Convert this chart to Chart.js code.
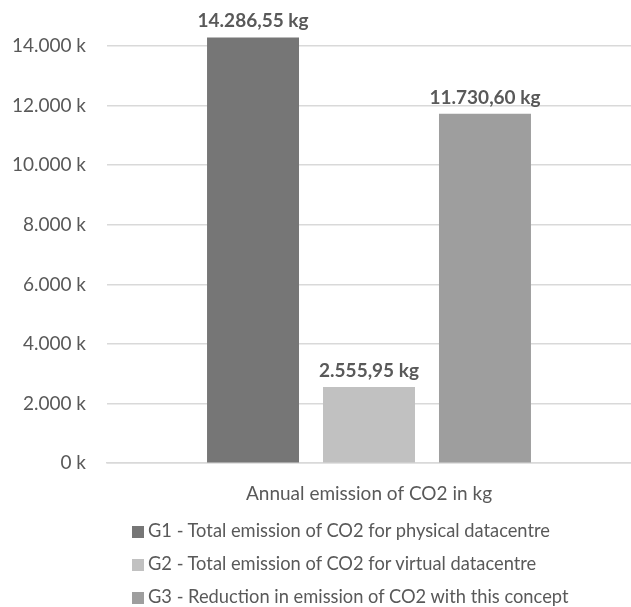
<!DOCTYPE html>
<html>
<head>
<meta charset="utf-8">
<script src="https://cdn.jsdelivr.net/npm/chart.js@4"></script>
<style>
  html, body { margin: 0; padding: 0; background: #fff; }
  #wrap { position: relative; width: 631px; height: 607px; }
  #legend { position: absolute; left: 132px; top: 514px; font-family: Lato, sans-serif; font-size: 18.3px; color: #595959; }
  #legend div { height: 33px; line-height: 33px; white-space: nowrap; }
  #legend span.box { display: inline-block; width: 12px; height: 12px; margin-right: 4px; vertical-align: -1px; }
</style>
</head>
<body>
<div id="wrap">
  <canvas id="chart" width="631" height="607"></canvas>
  <div id="legend"></div>
</div>
<script>
const categories = ["Annual emission of CO2 in kg"];
const seriesNames = [
  "G1 - Total emission of CO2 for physical datacentre",
  "G2 - Total emission of CO2 for virtual datacentre",
  "G3 - Reduction in emission of CO2 with this concept"
];
const seriesValues = [[14286.55], [2555.95], [11730.60]];
const seriesColors = ["#767676", "#c1c1c1", "#9e9e9e"];
const yTicks = [0, 2000, 4000, 6000, 8000, 10000, 12000, 14000];

const textColor = "#595959";
const fontFamily = "Lato, sans-serif";

function groupDots(n, decimals) {
  const parts = n.toFixed(decimals).split(".");
  const intPart = parts[0].replace(/\B(?=(\d{3})+(?!\d))/g, ".");
  return parts.length > 1 ? intPart + "," + parts[1] : intPart;
}

// draws the value above each bar
const barLabels = {
  id: "barLabels",
  afterDatasetsDraw(chart) {
    const ctx = chart.ctx;
    ctx.save();
    ctx.font = "bold 19px " + fontFamily;
    ctx.fillStyle = textColor;
    ctx.textAlign = "center";
    ctx.textBaseline = "alphabetic";
    chart.data.datasets.forEach((ds, i) => {
      chart.getDatasetMeta(i).data.forEach((bar, j) => {
        ctx.fillText(groupDots(ds.data[j], 2) + " kg", bar.x, bar.y - 10);
      });
    });
    ctx.restore();
  }
};

const ctx = document.getElementById("chart").getContext("2d");
const chart = new Chart(ctx, {
  type: "bar",
  data: {
    labels: categories,
    datasets: seriesNames.map((name, i) => ({
      label: name,
      data: seriesValues[i],
      backgroundColor: seriesColors[i],
      borderWidth: 0,
      clip: false,
      categoryPercentage: 0.664,
      barPercentage: 0.793
    }))
  },
  options: {
    responsive: false,
    animation: false,
    layout: { padding: { top: 46, right: 0, bottom: 91, left: 0 } },
    plugins: {
      legend: { display: false },
      tooltip: { enabled: false }
    },
    scales: {
      x: {
        grid: { display: false },
        border: { display: true, color: "#d9d9d9", width: 1.5 },
        ticks: { color: textColor, font: { family: fontFamily, size: 19 }, padding: 11 }
      },
      y: {
        min: 0,
        max: 14000,
        afterFit(scale) { scale.width = 107; },
        afterBuildTicks(scale) { scale.ticks = yTicks.map(v => ({ value: v })); },
        grid: { color: "#d9d9d9", lineWidth: 1.5, drawTicks: false },
        border: { display: false },
        ticks: {
          color: textColor,
          font: { family: fontFamily, size: 19 },
          padding: 21,
          callback: v => groupDots(v, 0) + " k"
        }
      }
    }
  },
  plugins: [barLabels]
});

const legend = document.getElementById("legend");
seriesNames.forEach((name, i) => {
  const row = document.createElement("div");
  const box = document.createElement("span");
  box.className = "box";
  box.style.background = seriesColors[i];
  row.appendChild(box);
  row.appendChild(document.createTextNode(name));
  legend.appendChild(row);
});
</script>
</body>
</html>
